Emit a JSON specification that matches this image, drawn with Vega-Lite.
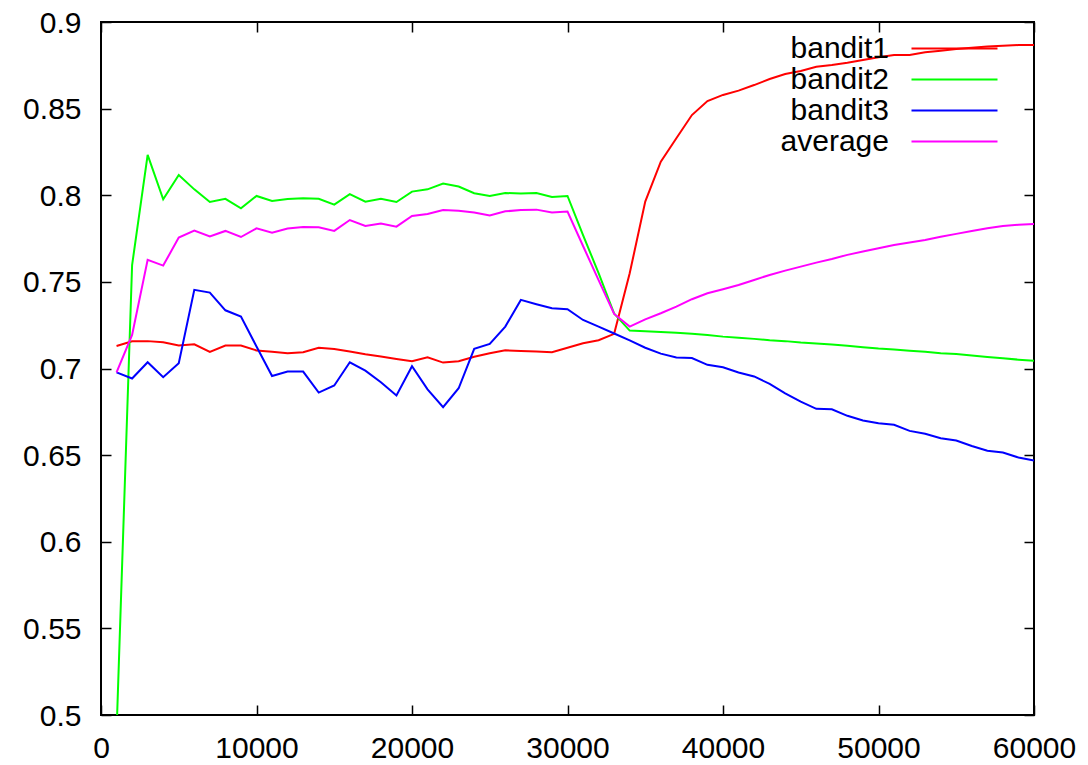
{
  "$schema": "https://vega.github.io/schema/vega-lite/v6.json",
  "autosize": {"type": "none"},
  "padding": {"left": 101, "top": 22, "right": 54, "bottom": 50},
  "width": 933,
  "height": 693,
  "background": "white",
  "config": {
    "view": {"stroke": "black", "strokeWidth": 2},
    "font": "Liberation Sans",
    "axis": {
      "grid": false,
      "domain": false,
      "tickColor": "black",
      "tickWidth": 1.5,
      "tickSize": -10,
      "labelFont": "Liberation Sans",
      "labelFontSize": 30,
      "labelColor": "black",
      "labelOverlap": false,
      "labelFlush": false,
      "title": null
    }
  },
  "data": {"values": [
    {"x":1000,"s":"bandit1","v":0.713},{"x":2000,"s":"bandit1","v":0.7157},{"x":3000,"s":"bandit1","v":0.7158},{"x":4000,"s":"bandit1","v":0.7152},{"x":5000,"s":"bandit1","v":0.7133},{"x":6000,"s":"bandit1","v":0.714},{"x":7000,"s":"bandit1","v":0.7096},{"x":8000,"s":"bandit1","v":0.7133},{"x":9000,"s":"bandit1","v":0.7133},{"x":10000,"s":"bandit1","v":0.7104},
    {"x":11000,"s":"bandit1","v":0.7096},{"x":12000,"s":"bandit1","v":0.7088},{"x":13000,"s":"bandit1","v":0.7094},{"x":14000,"s":"bandit1","v":0.712},{"x":15000,"s":"bandit1","v":0.7113},{"x":16000,"s":"bandit1","v":0.7098},{"x":17000,"s":"bandit1","v":0.7082},{"x":18000,"s":"bandit1","v":0.7069},{"x":19000,"s":"bandit1","v":0.7055},{"x":20000,"s":"bandit1","v":0.7042},
    {"x":21000,"s":"bandit1","v":0.7065},{"x":22000,"s":"bandit1","v":0.7034},{"x":23000,"s":"bandit1","v":0.7042},{"x":24000,"s":"bandit1","v":0.7068},{"x":25000,"s":"bandit1","v":0.7088},{"x":26000,"s":"bandit1","v":0.7105},{"x":27000,"s":"bandit1","v":0.7101},{"x":28000,"s":"bandit1","v":0.7098},{"x":29000,"s":"bandit1","v":0.7094},{"x":30000,"s":"bandit1","v":0.712},
    {"x":31000,"s":"bandit1","v":0.7146},{"x":32000,"s":"bandit1","v":0.7163},{"x":33000,"s":"bandit1","v":0.72},{"x":34000,"s":"bandit1","v":0.755},{"x":35000,"s":"bandit1","v":0.7963},{"x":36000,"s":"bandit1","v":0.8194},{"x":37000,"s":"bandit1","v":0.8329},{"x":38000,"s":"bandit1","v":0.8463},{"x":39000,"s":"bandit1","v":0.8544},{"x":40000,"s":"bandit1","v":0.8579},
    {"x":41000,"s":"bandit1","v":0.8604},{"x":42000,"s":"bandit1","v":0.8636},{"x":43000,"s":"bandit1","v":0.8671},{"x":44000,"s":"bandit1","v":0.87},{"x":45000,"s":"bandit1","v":0.8717},{"x":46000,"s":"bandit1","v":0.8742},{"x":47000,"s":"bandit1","v":0.8752},{"x":48000,"s":"bandit1","v":0.8765},{"x":49000,"s":"bandit1","v":0.8781},{"x":50000,"s":"bandit1","v":0.8796},
    {"x":51000,"s":"bandit1","v":0.881},{"x":52000,"s":"bandit1","v":0.881},{"x":53000,"s":"bandit1","v":0.8825},{"x":54000,"s":"bandit1","v":0.8834},{"x":55000,"s":"bandit1","v":0.8844},{"x":56000,"s":"bandit1","v":0.8852},{"x":57000,"s":"bandit1","v":0.8858},{"x":58000,"s":"bandit1","v":0.8863},{"x":59000,"s":"bandit1","v":0.8867},{"x":60000,"s":"bandit1","v":0.8867},

    {"x":1000,"s":"bandit2","v":0.49},{"x":2000,"s":"bandit2","v":0.7597},{"x":3000,"s":"bandit2","v":0.8233},{"x":4000,"s":"bandit2","v":0.7977},{"x":5000,"s":"bandit2","v":0.8117},{"x":6000,"s":"bandit2","v":0.8034},{"x":7000,"s":"bandit2","v":0.7961},{"x":8000,"s":"bandit2","v":0.7979},{"x":9000,"s":"bandit2","v":0.7925},{"x":10000,"s":"bandit2","v":0.7996},
    {"x":11000,"s":"bandit2","v":0.7967},{"x":12000,"s":"bandit2","v":0.7979},{"x":13000,"s":"bandit2","v":0.7983},{"x":14000,"s":"bandit2","v":0.798},{"x":15000,"s":"bandit2","v":0.7946},{"x":16000,"s":"bandit2","v":0.8006},{"x":17000,"s":"bandit2","v":0.7963},{"x":18000,"s":"bandit2","v":0.798},{"x":19000,"s":"bandit2","v":0.7961},{"x":20000,"s":"bandit2","v":0.8021},
    {"x":21000,"s":"bandit2","v":0.8034},{"x":22000,"s":"bandit2","v":0.8067},{"x":23000,"s":"bandit2","v":0.805},{"x":24000,"s":"bandit2","v":0.8012},{"x":25000,"s":"bandit2","v":0.7996},{"x":26000,"s":"bandit2","v":0.8013},{"x":27000,"s":"bandit2","v":0.801},{"x":28000,"s":"bandit2","v":0.8013},{"x":29000,"s":"bandit2","v":0.799},{"x":30000,"s":"bandit2","v":0.7996},
    {"x":31000,"s":"bandit2","v":0.777},{"x":32000,"s":"bandit2","v":0.755},{"x":33000,"s":"bandit2","v":0.7317},{"x":34000,"s":"bandit2","v":0.7219},{"x":35000,"s":"bandit2","v":0.7215},{"x":36000,"s":"bandit2","v":0.7211},{"x":37000,"s":"bandit2","v":0.7207},{"x":38000,"s":"bandit2","v":0.7201},{"x":39000,"s":"bandit2","v":0.7194},{"x":40000,"s":"bandit2","v":0.7184},
    {"x":41000,"s":"bandit2","v":0.7177},{"x":42000,"s":"bandit2","v":0.7171},{"x":43000,"s":"bandit2","v":0.7163},{"x":44000,"s":"bandit2","v":0.7158},{"x":45000,"s":"bandit2","v":0.715},{"x":46000,"s":"bandit2","v":0.7144},{"x":47000,"s":"bandit2","v":0.7138},{"x":48000,"s":"bandit2","v":0.7131},{"x":49000,"s":"bandit2","v":0.7123},{"x":50000,"s":"bandit2","v":0.7115},
    {"x":51000,"s":"bandit2","v":0.7109},{"x":52000,"s":"bandit2","v":0.7103},{"x":53000,"s":"bandit2","v":0.7096},{"x":54000,"s":"bandit2","v":0.7088},{"x":55000,"s":"bandit2","v":0.7083},{"x":56000,"s":"bandit2","v":0.7075},{"x":57000,"s":"bandit2","v":0.7067},{"x":58000,"s":"bandit2","v":0.7059},{"x":59000,"s":"bandit2","v":0.7051},{"x":60000,"s":"bandit2","v":0.7044},

    {"x":1000,"s":"bandit3","v":0.6978},{"x":2000,"s":"bandit3","v":0.6942},{"x":3000,"s":"bandit3","v":0.7036},{"x":4000,"s":"bandit3","v":0.695},{"x":5000,"s":"bandit3","v":0.703},{"x":6000,"s":"bandit3","v":0.7454},{"x":7000,"s":"bandit3","v":0.7438},{"x":8000,"s":"bandit3","v":0.7336},{"x":9000,"s":"bandit3","v":0.73},{"x":10000,"s":"bandit3","v":0.7127},
    {"x":11000,"s":"bandit3","v":0.6957},{"x":12000,"s":"bandit3","v":0.6982},{"x":13000,"s":"bandit3","v":0.6982},{"x":14000,"s":"bandit3","v":0.6861},{"x":15000,"s":"bandit3","v":0.6902},{"x":16000,"s":"bandit3","v":0.7036},{"x":17000,"s":"bandit3","v":0.6988},{"x":18000,"s":"bandit3","v":0.6921},{"x":19000,"s":"bandit3","v":0.6844},{"x":20000,"s":"bandit3","v":0.7013},
    {"x":21000,"s":"bandit3","v":0.688},{"x":22000,"s":"bandit3","v":0.6777},{"x":23000,"s":"bandit3","v":0.6886},{"x":24000,"s":"bandit3","v":0.7113},{"x":25000,"s":"bandit3","v":0.7142},{"x":26000,"s":"bandit3","v":0.7242},{"x":27000,"s":"bandit3","v":0.7396},{"x":28000,"s":"bandit3","v":0.7371},{"x":29000,"s":"bandit3","v":0.7348},{"x":30000,"s":"bandit3","v":0.7342},
    {"x":31000,"s":"bandit3","v":0.728},{"x":32000,"s":"bandit3","v":0.7242},{"x":33000,"s":"bandit3","v":0.7202},{"x":34000,"s":"bandit3","v":0.7162},{"x":35000,"s":"bandit3","v":0.712},{"x":36000,"s":"bandit3","v":0.7086},{"x":37000,"s":"bandit3","v":0.7063},{"x":38000,"s":"bandit3","v":0.706},{"x":39000,"s":"bandit3","v":0.7021},{"x":40000,"s":"bandit3","v":0.7007},
    {"x":41000,"s":"bandit3","v":0.6977},{"x":42000,"s":"bandit3","v":0.6954},{"x":43000,"s":"bandit3","v":0.6911},{"x":44000,"s":"bandit3","v":0.6857},{"x":45000,"s":"bandit3","v":0.6809},{"x":46000,"s":"bandit3","v":0.6767},{"x":47000,"s":"bandit3","v":0.6765},{"x":48000,"s":"bandit3","v":0.6727},{"x":49000,"s":"bandit3","v":0.67},{"x":50000,"s":"bandit3","v":0.6684},
    {"x":51000,"s":"bandit3","v":0.6675},{"x":52000,"s":"bandit3","v":0.664},{"x":53000,"s":"bandit3","v":0.6623},{"x":54000,"s":"bandit3","v":0.6598},{"x":55000,"s":"bandit3","v":0.6584},{"x":56000,"s":"bandit3","v":0.6553},{"x":57000,"s":"bandit3","v":0.6525},{"x":58000,"s":"bandit3","v":0.6515},{"x":59000,"s":"bandit3","v":0.6486},{"x":60000,"s":"bandit3","v":0.6469},

    {"x":1000,"s":"average","v":0.6978},{"x":2000,"s":"average","v":0.7194},{"x":3000,"s":"average","v":0.7627},{"x":4000,"s":"average","v":0.7594},{"x":5000,"s":"average","v":0.7756},{"x":6000,"s":"average","v":0.7796},{"x":7000,"s":"average","v":0.7762},{"x":8000,"s":"average","v":0.7794},{"x":9000,"s":"average","v":0.7759},{"x":10000,"s":"average","v":0.7809},
    {"x":11000,"s":"average","v":0.7784},{"x":12000,"s":"average","v":0.7808},{"x":13000,"s":"average","v":0.7817},{"x":14000,"s":"average","v":0.7815},{"x":15000,"s":"average","v":0.7794},{"x":16000,"s":"average","v":0.7857},{"x":17000,"s":"average","v":0.7823},{"x":18000,"s":"average","v":0.7837},{"x":19000,"s":"average","v":0.7819},{"x":20000,"s":"average","v":0.788},
    {"x":21000,"s":"average","v":0.7892},{"x":22000,"s":"average","v":0.7915},{"x":23000,"s":"average","v":0.7911},{"x":24000,"s":"average","v":0.79},{"x":25000,"s":"average","v":0.7883},{"x":26000,"s":"average","v":0.7907},{"x":27000,"s":"average","v":0.7915},{"x":28000,"s":"average","v":0.7917},{"x":29000,"s":"average","v":0.79},{"x":30000,"s":"average","v":0.7906},
    {"x":31000,"s":"average","v":0.7707},{"x":32000,"s":"average","v":0.751},{"x":33000,"s":"average","v":0.7315},{"x":34000,"s":"average","v":0.7242},{"x":35000,"s":"average","v":0.7284},{"x":36000,"s":"average","v":0.7319},{"x":37000,"s":"average","v":0.7357},{"x":38000,"s":"average","v":0.74},{"x":39000,"s":"average","v":0.7434},{"x":40000,"s":"average","v":0.7457},
    {"x":41000,"s":"average","v":0.7482},{"x":42000,"s":"average","v":0.7511},{"x":43000,"s":"average","v":0.754},{"x":44000,"s":"average","v":0.7565},{"x":45000,"s":"average","v":0.7588},{"x":46000,"s":"average","v":0.7611},{"x":47000,"s":"average","v":0.7632},{"x":48000,"s":"average","v":0.7656},{"x":49000,"s":"average","v":0.7675},{"x":50000,"s":"average","v":0.7694},
    {"x":51000,"s":"average","v":0.7713},{"x":52000,"s":"average","v":0.7727},{"x":53000,"s":"average","v":0.7742},{"x":54000,"s":"average","v":0.7761},{"x":55000,"s":"average","v":0.7777},{"x":56000,"s":"average","v":0.7794},{"x":57000,"s":"average","v":0.781},{"x":58000,"s":"average","v":0.7823},{"x":59000,"s":"average","v":0.783},{"x":60000,"s":"average","v":0.7834}
  ]},
  "layer": [
    {
      "mark": {"type": "line", "strokeWidth": 2, "clip": true},
      "encoding": {
        "x": {"field": "x", "type": "quantitative",
              "scale": {"domain": [0, 60000], "nice": false, "zero": false},
              "axis": {"orient": "bottom", "values": [0, 10000, 20000, 30000, 40000, 50000, 60000], "format": "d", "labelPadding": 28}},
        "y": {"field": "v", "type": "quantitative",
              "scale": {"domain": [0.5, 0.9], "nice": false, "zero": false},
              "axis": {"orient": "left", "values": [0.5, 0.55, 0.6, 0.65, 0.7, 0.75, 0.8, 0.85, 0.9], "format": "~g", "labelPadding": 30, "labelOffset": 1}},
        "color": {"field": "s", "type": "nominal",
                  "scale": {"domain": ["bandit1", "bandit2", "bandit3", "average"], "range": ["#ff0000", "#00ff00", "#0000ff", "#ff00ff"]},
                  "legend": {
                    "title": null, "orient": "none", "legendX": 678, "legendY": 11,
                    "padding": 0, "symbolType": "M-3,0H3", "symbolSize": 822, "symbolStrokeWidth": 2,
                    "rowPadding": 0,
                    "labelFont": "Liberation Sans", "labelFontSize": 30, "labelColor": "black",
                    "labelAlign": "right", "labelOffset": -81, "symbolOffset": 160, "labelLimit": 300
                  }},
        "order": {"field": "x", "type": "quantitative"}
      }
    },
    {
      "mark": {"type": "point", "opacity": 0},
      "encoding": {
        "x": {"field": "x", "type": "quantitative",
              "axis": {"orient": "top", "values": [0, 10000, 20000, 30000, 40000, 50000, 60000], "labels": false}},
        "y": {"field": "v", "type": "quantitative",
              "axis": {"orient": "right", "values": [0.5, 0.55, 0.6, 0.65, 0.7, 0.75, 0.8, 0.85, 0.9], "labels": false}}
      }
    }
  ],
  "resolve": {"axis": {"x": "independent", "y": "independent"}}
}
